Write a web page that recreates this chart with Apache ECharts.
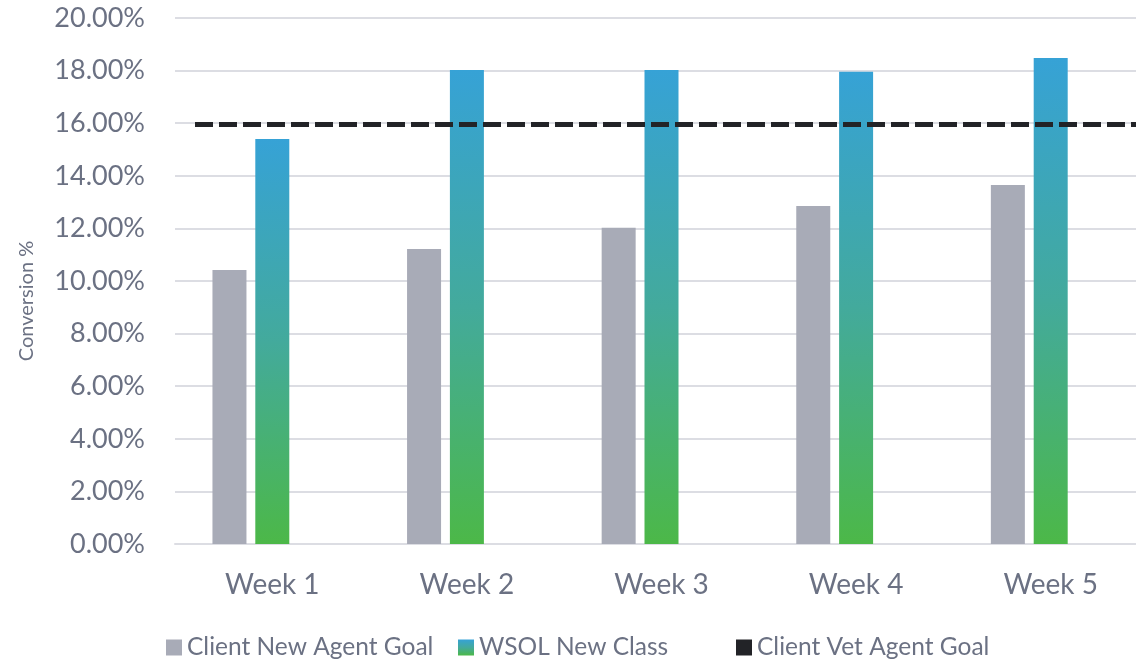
<!DOCTYPE html>
<html>
<head>
<meta charset="utf-8">
<script src="https://cdn.jsdelivr.net/npm/echarts@6/dist/echarts.min.js"></script>
<style>
  html, body { margin: 0; padding: 0; background: #fff; }
  #chart { width: 1136px; height: 662px; }
</style>
</head>
<body>
<div id="chart"></div>
<script>
// data (percent)
let weeks = ['Week 1', 'Week 2', 'Week 3', 'Week 4', 'Week 5']
let clientNewAgentGoal = [10.42, 11.22, 12.02, 12.85, 13.65]
let wsolNewClass = [15.40, 18.02, 18.02, 17.96, 18.48]
let clientVetAgentGoal = 15.95
let yMin = 0
let yMax = 20
let yStep = 2

let textColor = '#6b7183'
let font = 'Lato'
let legendText = { fontSize: 24.5, color: textColor, fontFamily: font }

function legendAt(left, name) {
    return {
        bottom: 2,
        left: left,
        itemWidth: 16,
        itemHeight: 16,
        itemGap: 0,
        icon: 'rect',
        padding: 0,
        textStyle: legendText,
        data: [name]
    }
}

echarts.init(document.querySelector('#chart')).setOption({
    animation: false,
    textStyle: { fontFamily: font, color: textColor },
    grid: { left: 175, width: 973, top: 18, bottom: 118, containLabel: false, outerBoundsMode: 'none' },
    legend: [
        legendAt(166, 'Client New Agent Goal'),
        legendAt(458, 'WSOL New Class'),
        legendAt(736, 'Client Vet Agent Goal')
    ],
    xAxis: {
        type: 'category',
        data: weeks,
        axisLine: { lineStyle: { color: '#dcdde3', width: 2 } },
        axisTick: { show: false },
        axisLabel: { fontSize: 28, color: textColor, margin: 27 }
    },
    yAxis: {
        type: 'value',
        min: yMin,
        max: yMax,
        interval: yStep,
        name: 'Conversion %',
        nameLocation: 'middle',
        nameGap: 138,
        nameTextStyle: { fontSize: 20, color: textColor, padding: [0, 40, 0, 0] },
        axisLine: { show: false },
        axisTick: { show: false },
        splitLine: { lineStyle: { color: '#dcdde3', width: 2 } },
        axisLabel: {
            fontSize: 27,
            color: textColor,
            margin: 30,
            formatter: function (v) { return v.toFixed(2) + '%' }
        }
    },
    series: [{
        name: 'Client New Agent Goal',
        type: 'bar',
        data: clientNewAgentGoal,
        barWidth: 34,
        barGap: '26%',
        itemStyle: { color: '#a8abb7' }
    }, {
        name: 'WSOL New Class',
        type: 'bar',
        data: wsolNewClass,
        barWidth: 34,
        itemStyle: {
            color: new echarts.graphic.LinearGradient(0, 0, 0, 1, [
                { offset: 0, color: '#36a2d6' },
                { offset: 0.5, color: '#43aa9c' },
                { offset: 1, color: '#4cb848' }
            ])
        }
    }, {
        name: 'Client Vet Agent Goal',
        type: 'bar',
        data: weeks.map(function () { return '-' }),
        barWidth: 34,
        itemStyle: { color: '#222327' },
        markLine: {
            silent: true,
            symbol: ['none', 'none'],
            label: { show: false },
            lineStyle: { color: '#222327', width: 5, type: [18, 6] },
            data: [[
                { x: 195, xAxis: 0, yAxis: clientVetAgentGoal },
                { x: 1140, xAxis: weeks.length - 1, yAxis: clientVetAgentGoal }
            ]]
        }
    }]
});
</script>
</body>
</html>
